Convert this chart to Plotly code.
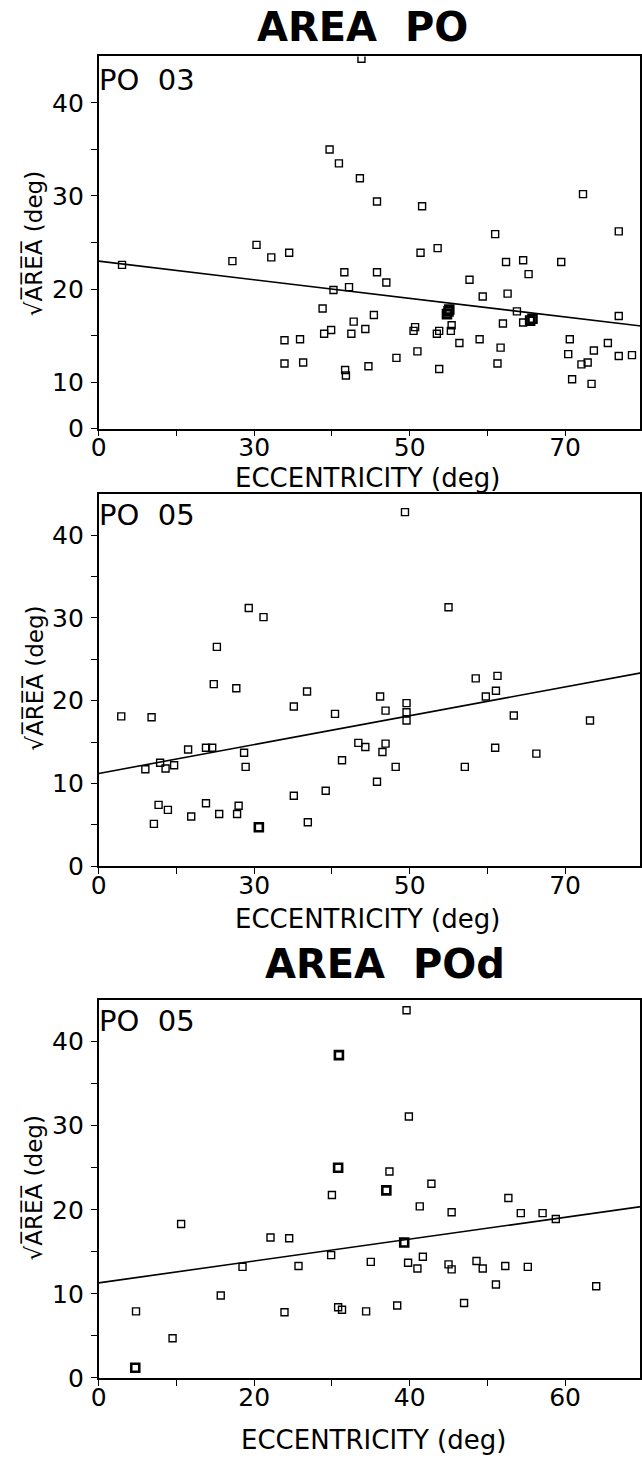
import plotly.graph_objects as go

W, H = 642, 1470

# ---------------- Panel 1: AREA PO, animal PO 03 ----------------
# x axis origin is labelled "0" but sits at the 10-deg tick; y origin labelled "0" sits at 5
p1_x = [13.0, 27.2, 30.3, 32.2, 34.5, 33.9, 35.9, 33.9, 36.3, 38.8, 39.0, 39.9, 40.2,
        41.6, 42.2, 42.5, 42.8, 41.7, 41.8, 44.3, 44.7, 45.4, 45.8, 47.0, 48.3, 45.8,
        51.6, 51.4, 53.6, 50.5, 50.7, 51.0, 53.5, 53.8, 53.8, 55.3, 55.4, 56.4, 57.7,
        59.0, 59.4, 61.0, 61.3, 61.7, 62.0, 62.4, 62.6, 63.8, 64.6, 64.6, 65.3, 69.5,
        70.6, 70.4, 70.9, 72.1, 72.9, 73.7, 73.4, 75.5, 76.9, 76.9, 76.9, 78.6, 72.3,
        43.8, 39.7, 40.9, 43.6]
p1_y = [22.6, 23.0, 24.75, 23.4, 23.9, 14.5, 14.6, 12.0, 12.1, 17.9, 15.2, 15.6, 19.9,
        21.8, 20.2, 15.2, 16.5, 11.3, 10.7, 15.7, 11.7, 17.2, 21.8, 20.7, 12.6, 29.4,
        28.9, 23.9, 24.4, 15.5, 15.9, 13.3, 15.2, 15.5, 11.4, 15.5, 16.1, 14.2, 21.0,
        14.6, 19.2, 25.9, 12.0, 13.7, 16.3, 22.9, 19.5, 17.6, 23.1, 16.4, 21.6, 22.9,
        14.6, 13.0, 10.3, 11.9, 12.1, 13.4, 9.8, 14.2, 26.2, 17.1, 12.8, 12.9, 30.2,
        44.75, 35.0, 33.5, 31.9]
p1_bold_x = [54.8, 55.0, 55.1, 65.5, 65.8]
p1_bold_y = [17.3, 17.6, 17.8, 16.6, 16.8]
p1_fit_x = [10, 80]
p1_fit_y = [23.0, 16.0]

# ---------------- Panel 2: AREA PO, animal PO 05 ----------------
p2_x = [49.4, 29.3, 31.2, 55.0, 25.2, 12.9, 16.8, 24.8, 27.7, 36.8, 35.1, 40.4, 46.2,
        46.9, 49.6, 49.6, 49.6, 58.5, 61.3, 59.8, 61.1, 63.4, 73.2, 21.5, 23.8, 24.6,
        28.7, 16.0, 17.9, 18.6, 19.7, 28.9, 41.3, 43.4, 44.3, 46.5, 46.9, 48.2, 57.1,
        61.0, 66.3, 45.8, 35.1, 39.2, 17.7, 18.9, 17.1, 21.9, 23.8, 25.5, 28.0, 27.8,
        36.9]
p2_y = [42.8, 31.2, 30.1, 31.3, 26.5, 18.1, 18.0, 22.0, 21.5, 21.1, 19.3, 18.4, 20.5,
        18.8, 19.7, 18.6, 17.6, 22.7, 23.0, 20.5, 21.2, 18.2, 17.6, 14.1, 14.3, 14.3,
        13.7, 11.7, 12.5, 11.8, 12.2, 12.0, 12.8, 14.9, 14.4, 13.8, 14.8, 12.0, 12.0,
        14.3, 13.6, 10.2, 8.5, 9.1, 7.4, 6.8, 5.1, 6.0, 7.6, 6.3, 7.3, 6.3,
        5.3]
p2_bold_x = [30.6]
p2_bold_y = [4.7]
p2_fit_x = [10, 80]
p2_fit_y = [11.2, 23.4]

# ---------------- Panel 3: AREA POd, animal PO 05 ----------------
p3_x = [39.6, 39.9, 37.4, 42.8, 30.0, 41.3, 52.7, 45.4, 54.3, 57.1, 58.8, 10.6, 22.1,
        24.5, 29.9, 41.7, 18.5, 25.7, 35.0, 39.8, 41.0, 45.0, 45.4, 48.6, 49.4, 52.3,
        55.2, 51.1, 64.0, 15.7, 47.0, 38.4, 30.8, 31.3, 4.8, 23.9, 34.4, 9.5]
p3_y = [43.75, 31.1, 24.55, 23.1, 21.75, 20.4, 21.4, 19.7, 19.6, 19.6, 18.9, 18.3, 16.7,
        16.6, 14.6, 14.4, 13.2, 13.3, 13.8, 13.7, 13.0, 13.5, 12.9, 13.9, 13.0, 13.3,
        13.2, 11.1, 10.9, 9.8, 8.9, 8.6, 8.4, 8.1, 7.9, 7.8, 7.9, 4.7]
p3_bold_x = [30.9, 30.8, 37.0, 39.3, 4.7]
p3_bold_y = [38.4, 25.0, 22.3, 16.1, 1.2]
p3_fit_x = [0, 70]
p3_fit_y = [11.3, 20.4]

# tick definitions
p12_xticks = [10, 20, 30, 40, 50, 60, 70]
p12_xtext = ["0", "", "30", "", "50", "", "70"]
p1_yticks = [5, 10, 15, 20, 25, 30, 35, 40]
p1_ytext = ["0", "10", "", "20", "", "30", "", "40"]
p23_yticks = [0, 5, 10, 15, 20, 25, 30, 35, 40]
p23_ytext = ["0", "", "10", "", "20", "", "30", "", "40"]
p3_xticks = [0, 10, 20, 30, 40, 50, 60]
p3_xtext = ["0", "", "20", "", "40", "", "60"]

FONT = "DejaVu Sans"
INK = "black"

AX_LEFT = 92          # page x of the axis origin
PX_PER_DEG = 7.884    # horizontal scale (page px per degree)
AX_RIGHT = 641


def fx(p):
    return p / W


def fy(p):
    return 1 - p / H


fig = go.Figure()

panels = [
    (p1_x, p1_y, p1_bold_x, p1_bold_y, p1_fit_x, p1_fit_y, "x", "y"),
    (p2_x, p2_y, p2_bold_x, p2_bold_y, p2_fit_x, p2_fit_y, "x2", "y2"),
    (p3_x, p3_y, p3_bold_x, p3_bold_y, p3_fit_x, p3_fit_y, "x3", "y3"),
]
for px_, py_, bx, by, lx, ly, xa, ya in panels:
    fig.add_trace(go.Scatter(x=lx, y=ly, mode="lines", xaxis=xa, yaxis=ya,
                             line=dict(color=INK, width=1.6), showlegend=False,
                             hoverinfo="skip"))
    fig.add_trace(go.Scatter(x=px_, y=py_, mode="markers", xaxis=xa, yaxis=ya,
                             marker=dict(symbol="square-open", size=7, color=INK,
                                         line=dict(width=1.4, color=INK)),
                             showlegend=False))
    fig.add_trace(go.Scatter(x=bx, y=by, mode="markers", xaxis=xa, yaxis=ya,
                             marker=dict(symbol="square-open", size=8, color=INK,
                                         line=dict(width=2.6, color=INK)),
                             showlegend=False))

x_dom = [fx(AX_LEFT), fx(AX_RIGHT)]
span_deg = (AX_RIGHT - AX_LEFT) / PX_PER_DEG
r12 = [10, 10 + span_deg]
r3 = [0, span_deg]
dom1 = [fy(433), fy(57)]
dom2 = [fy(875), fy(499)]
dom3 = [fy(1392), fy(1010)]

base = dict(showline=True, linecolor=INK, linewidth=1.8, mirror=True,
            showgrid=False, zeroline=False, ticks="outside", ticklen=6,
            tickwidth=1.4, tickcolor=INK,
            tickfont=dict(family=FONT, size=25, color=INK))
xcommon = dict(base, ticklabelstandoff=-10)
ycommon = dict(base, ticklabelstandoff=2)

fig.update_layout(
    width=W, height=H,
    margin=dict(l=0, r=0, t=0, b=0),
    paper_bgcolor="white", plot_bgcolor="white",
    xaxis=dict(domain=x_dom, anchor="y", range=r12, tickmode="array",
               tickvals=p12_xticks, ticktext=p12_xtext, **xcommon),
    yaxis=dict(domain=dom1, anchor="x", range=[5, 45], tickmode="array",
               tickvals=p1_yticks, ticktext=p1_ytext, **ycommon),
    xaxis2=dict(domain=x_dom, anchor="y2", range=r12, tickmode="array",
                tickvals=p12_xticks, ticktext=p12_xtext, **xcommon),
    yaxis2=dict(domain=dom2, anchor="x2", range=[0, 45], tickmode="array",
                tickvals=p23_yticks, ticktext=p23_ytext, **ycommon),
    xaxis3=dict(domain=x_dom, anchor="y3", range=r3, tickmode="array",
                tickvals=p3_xticks, ticktext=p3_xtext, **xcommon),
    yaxis3=dict(domain=dom3, anchor="x3", range=[0, 45], tickmode="array",
                tickvals=p23_yticks, ticktext=p23_ytext, **ycommon),
)

ylabel = "√A\u0305R\u0305E\u0305A\u0305 (deg)"
ann = []
# titles
ann.append(dict(text="<b>AREA  PO</b>", x=fx(360), y=fy(27), xanchor="center",
                yanchor="middle", font=dict(family=FONT, size=40, color=INK)))
ann.append(dict(text="<b>AREA  POd</b>", x=fx(382), y=fy(974), xanchor="center",
                yanchor="middle", font=dict(family=FONT, size=40, color=INK)))
# x labels
for xc, yc in [(365, 483), (365, 928), (371, 1455)]:
    ann.append(dict(text="ECCENTRICITY (deg)", x=fx(xc), y=fy(yc), xanchor="center",
                    yanchor="middle", font=dict(family=FONT, size=26, color=INK)))
# y labels
for yc in [246, 685, 1200]:
    ann.append(dict(text=ylabel, x=fx(26), y=fy(yc), xanchor="center", yanchor="middle",
                    textangle=-90, font=dict(family=FONT, size=23, color=INK)))
# animal ids
for lab, yc in [("PO  03", 81), ("PO  05", 520), ("PO  05", 1032)]:
    ann.append(dict(text=lab, x=fx(90), y=fy(yc), xanchor="left", yanchor="middle",
                    font=dict(family=FONT, size=29, color=INK)))
for a in ann:
    a.update(xref="paper", yref="paper", showarrow=False)
fig.update_layout(annotations=ann)

# remove the browser's default page margin so the figure fills the window exactly
fig.write_html(
    "out.html",
    config={"displayModeBar": False},
    post_script="document.body.style.margin='0';"
                "document.body.style.overflow='hidden';"
                "document.documentElement.style.overflow='hidden';",
)
